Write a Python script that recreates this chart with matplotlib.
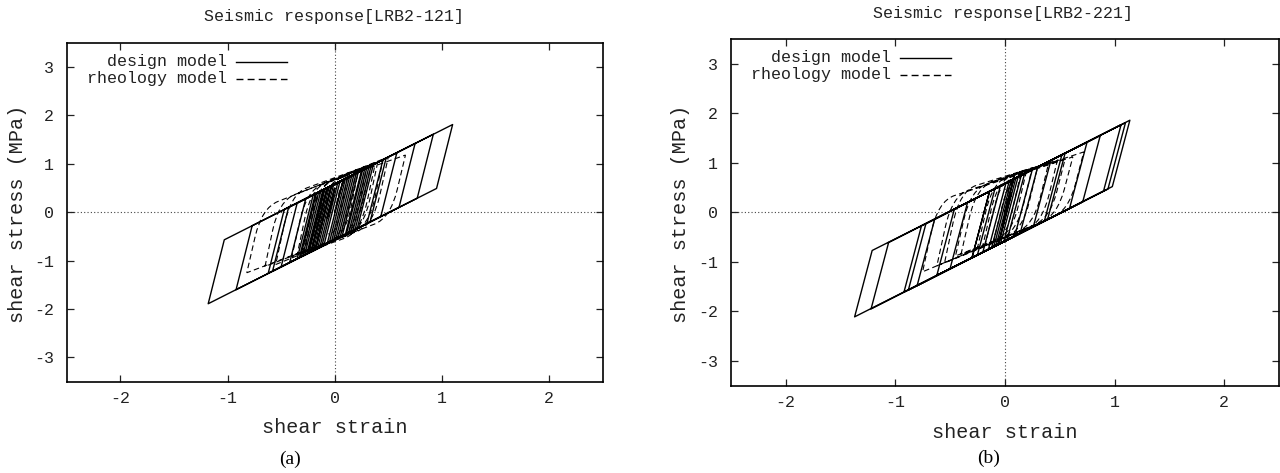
import numpy as np
import matplotlib
matplotlib.use("Agg")
import matplotlib.pyplot as plt
from matplotlib.path import Path
from matplotlib.patches import PathPatch
from matplotlib.lines import Line2D

plt.rcParams["axes.unicode_minus"] = False

MONO = "Liberation Mono"
SERIF = "Liberation Serif"

titles = ["Seismic response[LRB2-121]", "Seismic response[LRB2-221]"]
panel_tags = ["(a)", "(b)"]
x_label = "shear strain"
y_label = "shear stress (MPa)"
legend_labels = ["design model", "rheology model"]
x_ticks = [-2, -1, 0, 1, 2]
y_ticks = [-3, -2, -1, 0, 1, 2, 3]

# ---- LRB2-121: bilinear design model, vertices of the hysteresis path
design_a_strain = [0.00, 0.08, 0.18, 0.03, -0.22, -0.07, 0.32, 0.17, -0.35, -0.20,
                   0.48, 0.33, -0.58, -0.43, 1.10, 0.95, -1.18, -1.03, 0.92, 0.77,
                   -0.92, -0.77, 0.75, 0.60, -0.62, -0.47, 0.58, 0.43, -0.50, -0.35,
                   0.45, 0.30, -0.42, -0.27, 0.36, 0.21, -0.33, -0.18, 0.28, 0.13,
                   -0.28, -0.13, 0.22, 0.07, -0.25, -0.10, 0.30, 0.15, -0.18, -0.03,
                   0.16, 0.01, -0.30, -0.15, 0.25, 0.10, -0.12, 0.03, 0.12, -0.03,
                   -0.26, -0.11, 0.34, 0.19, -0.22, -0.07, 0.20, 0.05, -0.20, -0.05,
                   0.26, 0.11, -0.16, -0.01, 0.14, -0.01, -0.24, -0.09, 0.10, -0.05,
                   -0.32, -0.17, 0.05, -0.10, -0.18, -0.03,
                   0.08, -0.07, -0.14, 0.00, -0.07, -0.02, -0.05]
design_a_stress = [0.00, 0.67, 0.78, -0.54, -0.82, 0.50, 0.94, -0.38, -0.96, 0.36,
                   1.12, -0.20, -1.22, 0.10, 1.81, 0.49, -1.89, -0.57, 1.61, 0.29,
                   -1.60, -0.28, 1.42, 0.10, -1.26, 0.06, 1.23, -0.09, -1.13, 0.19,
                   1.08, -0.24, -1.04, 0.28, 0.98, -0.34, -0.94, 0.38, 0.89, -0.43,
                   -0.88, 0.43, 0.83, -0.49, -0.85, 0.47, 0.92, -0.40, -0.77, 0.55,
                   0.76, -0.56, -0.91, 0.41, 0.86, -0.46, -0.70, 0.62, 0.71, -0.61,
                   -0.86, 0.46, 0.96, -0.36, -0.82, 0.50, 0.80, -0.52, -0.79, 0.53,
                   0.87, -0.45, -0.75, 0.57, 0.74, -0.58, -0.84, 0.48, 0.69, -0.63,
                   -0.93, 0.39, 0.64, -0.68, -0.77, 0.55,
                   0.67, -0.65, -0.73, 0.50, -0.12, 0.30, 0.00]

# ---- LRB2-121: rheology model, start point then (knee, reversal) pairs
rheo_a_strain = [0.00, 0.06, 0.20, 0.07, -0.22, -0.08, 0.34, 0.20, -0.40,
                 -0.26, 0.66, 0.52, -0.82, -0.68, 0.45, 0.32, -0.65,
                 -0.52, 0.40, 0.27, -0.35, -0.22, 0.30, 0.17, -0.28,
                 -0.15, 0.22, 0.10, -0.18, -0.04, 0.50, 0.36, -0.55,
                 -0.41, 0.38, 0.24, -0.30, -0.16, 0.12, 0.02, -0.06]
rheo_a_stress = [0.00, 0.62, 0.82, -0.52, -0.80, 0.60, 0.98, -0.40, -0.92,
                 0.46, 1.18, -0.12, -1.25, 0.09, 1.08, -0.29, -1.12,
                 0.24, 1.02, -0.34, -0.88, 0.50, 0.94, -0.43, -0.82,
                 0.56, 0.86, -0.49, -0.72, 0.66, 1.14, -0.26, -1.08,
                 0.38, 1.02, -0.42, -0.85, 0.56, 0.75, -0.40, -0.45]

# ---- LRB2-221: bilinear design model
design_b_strain = [0.00, 0.08, 0.15, -0.01, -0.12, 0.04, 0.30, 0.14, -0.30, -0.14,
                   0.55, 0.39, -0.80, -0.64, 1.14, 0.98, -1.37, -1.21, 1.10, 0.94,
                   -1.22, -1.06, 1.06, 0.90, -0.92, -0.76, 0.87, 0.71, -0.88, -0.72,
                   0.75, 0.59, -0.62, -0.46, 0.52, 0.36, -0.50, -0.34, 0.42, 0.26,
                   -0.30, -0.14, 0.25, 0.09, -0.25, -0.09, 0.18, 0.02, -0.10, 0.06,
                   0.12, -0.04, -0.20, -0.04, 0.08, -0.08, -0.15, 0.01, 0.10, -0.06,
                   0.06, -0.02, 0.03, 0.00]
design_b_stress = [0.00, 0.67, 0.75, -0.59, -0.71, 0.63, 0.92, -0.42, -0.92, 0.42,
                   1.20, -0.14, -1.48, -0.14, 1.86, 0.52, -2.11, -0.77, 1.81, 0.47,
                   -1.95, -0.61, 1.77, 0.43, -1.61, -0.27, 1.55, 0.21, -1.57, -0.23,
                   1.42, 0.08, -1.27, 0.07, 1.16, -0.18, -1.14, 0.20, 1.05, -0.29,
                   -0.92, 0.42, 0.86, -0.48, -0.86, 0.48, 0.78, -0.56, -0.69, 0.65,
                   0.71, -0.63, -0.80, 0.54, 0.67, -0.67, -0.75, 0.59, 0.69, -0.65,
                   0.40, -0.30, 0.20, 0.00]

# ---- LRB2-221: rheology model
rheo_b_strain = [0.00, 0.06, 0.20, 0.06, -0.20, -0.06, 0.40, 0.26, -0.45,
                 -0.31, 0.72, 0.58, -0.75, -0.61, 0.62, 0.48, -0.62,
                 -0.48, 0.55, 0.41, -0.40, -0.26, 0.30, 0.16, -0.25,
                 -0.11, 0.15, 0.01, -0.10, 0.04, 0.48, 0.34, -0.55,
                 -0.41, 0.25, 0.11, -0.18, -0.04, 0.08]
rheo_b_stress = [0.00, 0.77, 0.86, -0.46, -0.66, 0.67, 1.00, -0.27, -0.88,
                 0.47, 1.22, 0.03, -1.20, 0.23, 1.12, -0.06, -1.08,
                 0.34, 1.08, -0.13, -0.85, 0.51, 0.93, -0.37, -0.72,
                 0.63, 0.82, -0.51, -0.55, 0.70, 1.06, -0.22, -1.02,
                 0.44, 0.90, -0.40, -0.66, 0.62, 0.66]

panels = [
    dict(design=(design_a_strain, design_a_stress), rheo=(rheo_a_strain, rheo_a_stress),
         box=(66.7, 42.7, 602.7, 381.7), title_xy=(334, 16.5), xlabel_xy=(335, 427),
         ylabel_xy=(18, 214), tag_xy=(290, 459)),
    dict(design=(design_b_strain, design_b_stress), rheo=(rheo_b_strain, rheo_b_stress),
         box=(730.7, 39.0, 1279.0, 385.7), title_xy=(1003, 13.5), xlabel_xy=(1005, 432),
         ylabel_xy=(681, 214), tag_xy=(989, 458)),
]

W, H, DPI = 1280, 473, 100
fig = plt.figure(figsize=(W / DPI, H / DPI), dpi=DPI)


def fx(px):
    return px / W


def fy(py):
    return 1 - py / H


def rheology_path(strain, stress):
    """Smooth branches: steep unloading, rounded knee, then the hardening slope."""
    start = np.array((strain[0], stress[0]))
    verts = [tuple(start)]
    codes = [Path.MOVETO]
    prev = start
    for i in range(1, len(strain) - 1, 2):
        knee = np.array((strain[i], stress[i]))
        end = np.array((strain[i + 1], stress[i + 1]))
        a = knee + 0.45 * (prev - knee)
        span = abs(end[0] - knee[0])
        f = min(0.6, 0.15 / span) if span > 0 else 0.6
        b = knee + f * (end - knee)
        verts += [tuple(a), tuple(knee), tuple(b), tuple(end)]
        codes += [Path.LINETO, Path.CURVE3, Path.CURVE3, Path.LINETO]
        prev = end
    return Path(verts, codes)


for p, title, tag in zip(panels, titles, panel_tags):
    l, t, r, b = p["box"]
    ax = fig.add_axes([fx(l), fy(b), (r - l) / W, (b - t) / H])
    ax.set_xlim(-2.5, 2.5)
    ax.set_ylim(-3.5, 3.5)

    ax.axhline(0, color="#444444", lw=0.8, ls=(0, (1, 2)), zorder=1)
    ax.axvline(0, color="#444444", lw=0.8, ls=(0, (1, 2)), zorder=1)

    ds, dt = p["design"]
    ax.plot(ds, dt, color="black", lw=1.0, zorder=3)
    rs, rt = p["rheo"]
    ax.add_patch(PathPatch(rheology_path(rs, rt), fill=False, edgecolor="black",
                           lw=0.8, ls=(0, (5, 3)), zorder=2))

    ax.set_xticks(x_ticks)
    ax.set_yticks(y_ticks)
    ax.set_xticklabels([str(v) for v in x_ticks])
    ax.set_yticklabels([str(v) for v in y_ticks])
    ax.tick_params(direction="in", length=5, width=0.9, top=True, right=True,
                   labelsize=12, colors="#222222")
    ax.tick_params(axis="x", pad=7)
    ax.tick_params(axis="y", pad=9)
    for lab in ax.get_xticklabels() + ax.get_yticklabels():
        lab.set_fontfamily(MONO)
    for s in ax.spines.values():
        s.set_linewidth(1.2)

    # legend drawn gnuplot-style: right-aligned labels followed by line samples
    wpx, hpx = r - l, b - t
    for k, (lab, ls) in enumerate(zip(legend_labels, ["-", (0, (5, 3))])):
        yy = 1 - (19 + 17 * k) / hpx
        ax.text(160 / wpx, yy, lab, transform=ax.transAxes, ha="right", va="center",
                fontsize=12, family=MONO, color="#222222")
        ax.add_line(Line2D([169 / wpx, 220 / wpx], [yy, yy], transform=ax.transAxes,
                           color="black", lw=1.0, ls=ls))

    fig.text(fx(p["title_xy"][0]), fy(p["title_xy"][1]), title, ha="center", va="center",
             fontsize=12, family=MONO, color="#222222")
    fig.text(fx(p["xlabel_xy"][0]), fy(p["xlabel_xy"][1]), x_label, ha="center",
             va="center", fontsize=14.5, family=MONO, color="#222222")
    fig.text(fx(p["ylabel_xy"][0]), fy(p["ylabel_xy"][1]), y_label, ha="center",
             va="center", rotation=90, fontsize=14.5, family=MONO, color="#222222")
    fig.text(fx(p["tag_xy"][0]), fy(p["tag_xy"][1]), tag, ha="center", va="center",
             fontsize=14, family=SERIF, color="black")

fig.savefig("out.png", dpi=DPI)
